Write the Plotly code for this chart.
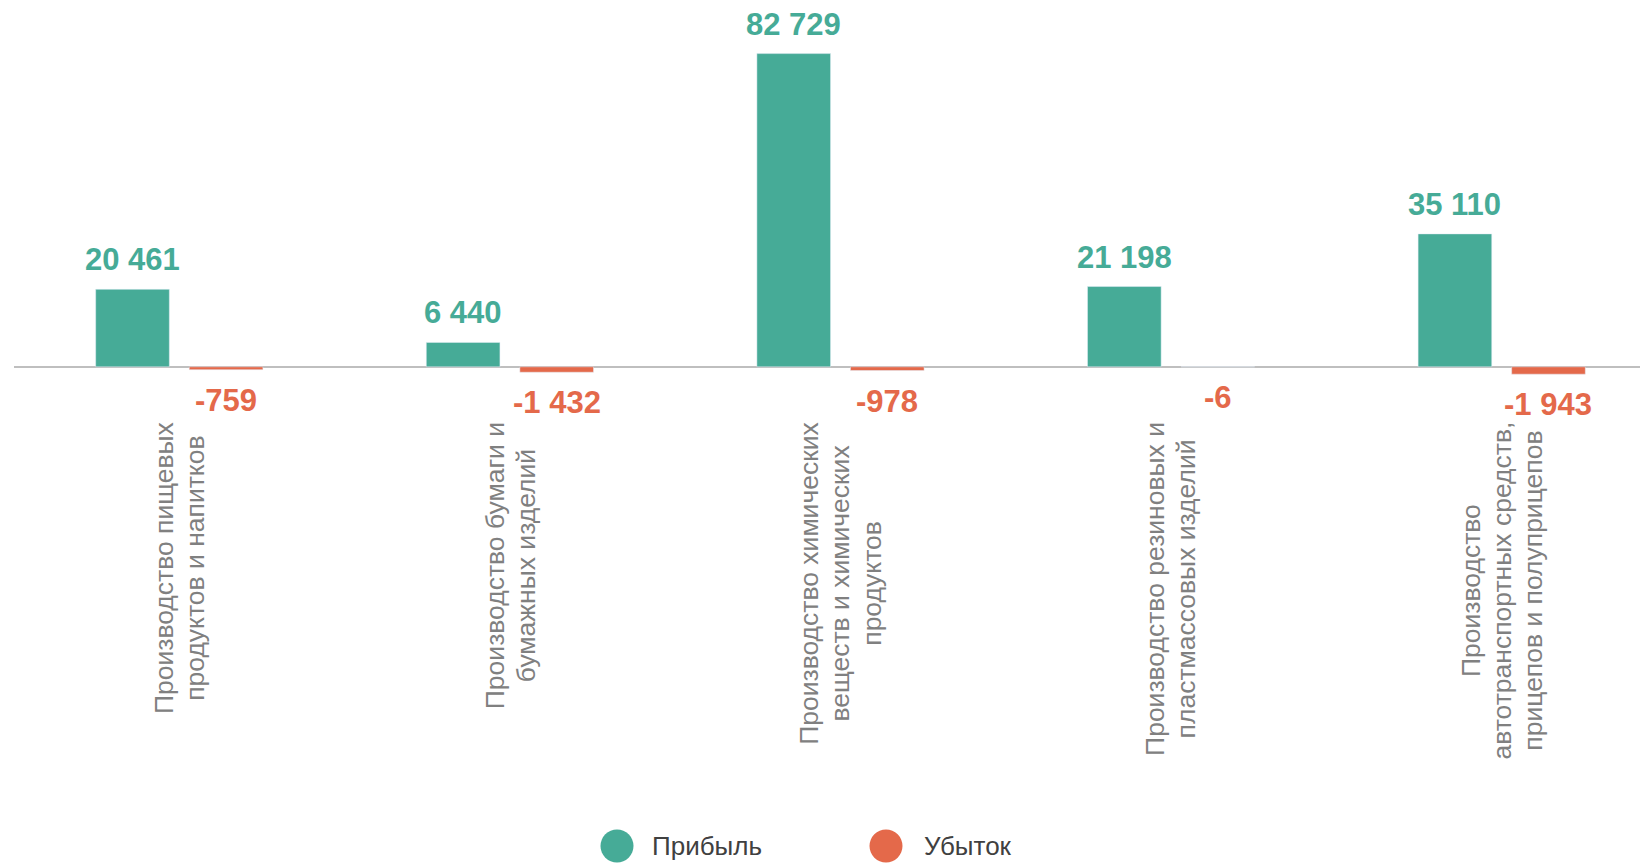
import plotly.graph_objects as go

categories = [
    "Производство пищевых<br>продуктов и напитков",
    "Производство бумаги и<br>бумажных изделий",
    "Производство химических<br>веществ и химических<br>продуктов",
    "Производство резиновых и<br>пластмассовых изделий",
    "Производство<br>автотранспортных средств,<br>прицепов и полуприцепов",
]
profit = [20461, 6440, 82729, 21198, 35110]
loss = [-759, -1432, -978, -6, -1943]
series_names = ["Прибыль", "Убыток"]

GREEN = "#46AB97"
RED = "#E4694A"
FONT = "Arial, Liberation Sans, sans-serif"

# page body has an 8px margin: layout pixel positions are page coords - 8
OFF = 8
FIG_W, FIG_H = 1648 - OFF, 863 - OFF

BARGAP, BARGROUPGAP = 0.434, 0.213
UNIT_PX = 330.6  # pixels per category


def fmt(v):
    return f"{v:,}".replace(",", " ")


fig = go.Figure()
for vals, name, col in [(profit, series_names[0], GREEN), (loss, series_names[1], RED)]:
    fig.add_trace(go.Bar(
        x=categories, y=vals, name=name, marker_color=col,
        cliponaxis=False, showlegend=False,
    ))

# value labels over / under each bar
slot_shift = (1 - BARGAP) / 4 * UNIT_PX
for j, (vals, col) in enumerate([(profit, GREEN), (loss, RED)]):
    for c, v in zip(categories, vals):
        fig.add_annotation(
            x=c, y=v, xref="x", yref="y", text=fmt(v), showarrow=False,
            xanchor="center", yanchor="middle",
            xshift=(2 * j - 1) * slot_shift,
            yshift=29.5 if v >= 0 else -30.5,
            font=dict(family=FONT, size=31, color=col, weight="bold"),
        )

# category labels (rotated, centred lines) under the zero line
for c in categories:
    txt = "<br>".join(f"<span style='font-size:26.5px'>{ln}</span>" for ln in c.split("<br>"))
    fig.add_annotation(
        x=c, y=0, xref="x", yref="y", text=txt, showarrow=False,
        textangle=-90, yanchor="top", xanchor="center", align="center",
        yshift=-53, font=dict(family=FONT, size=24, color="#808080"),
    )

plot_left, plot_right = 14 - OFF, FIG_W
plot_top, plot_bottom = 50 - OFF, 420 - OFF
zero_px = 366.8 - OFF
W = plot_right - plot_left
H = plot_bottom - plot_top


def px_to_paper(x, y):
    return (x - OFF - plot_left) / W, (plot_bottom - (y - OFF)) / H


# custom legend (page pixel positions)
legend_items = [(series_names[0], GREEN, 617, 650), (series_names[1], RED, 886, 922)]
for name, col, cx, tx in legend_items:
    px, py = px_to_paper(cx, 846)
    fig.add_shape(type="circle", xref="paper", yref="paper", xsizemode="pixel",
                  ysizemode="pixel", xanchor=px, yanchor=py, x0=-16.5, x1=16.5,
                  y0=-16.5, y1=16.5, fillcolor=col, line=dict(width=0))
    ax, ay = px_to_paper(tx, 846)
    fig.add_annotation(x=ax, y=ay, xref="paper", yref="paper", text=name,
                       showarrow=False, xanchor="left", yanchor="middle",
                       font=dict(family=FONT, size=26, color="#404040"))

k = 313.2 / 82729
fig.update_layout(
    width=FIG_W, height=FIG_H,
    margin=dict(l=plot_left, r=0, t=plot_top, b=FIG_H - plot_bottom),
    paper_bgcolor="white", plot_bgcolor="white",
    barmode="group", bargap=BARGAP, bargroupgap=BARGROUPGAP,
    font=dict(family=FONT),
    xaxis=dict(showticklabels=False, showgrid=False, showline=False, ticks="",
               range=[-0.5, -0.5 + W / UNIT_PX]),
    yaxis=dict(showticklabels=False, showgrid=False, ticks="",
               zeroline=True, zerolinecolor="#BFBFBF", zerolinewidth=2,
               range=[-(plot_bottom - zero_px) / k, (zero_px - plot_top) / k]),
)

fig.write_html("out.html")
